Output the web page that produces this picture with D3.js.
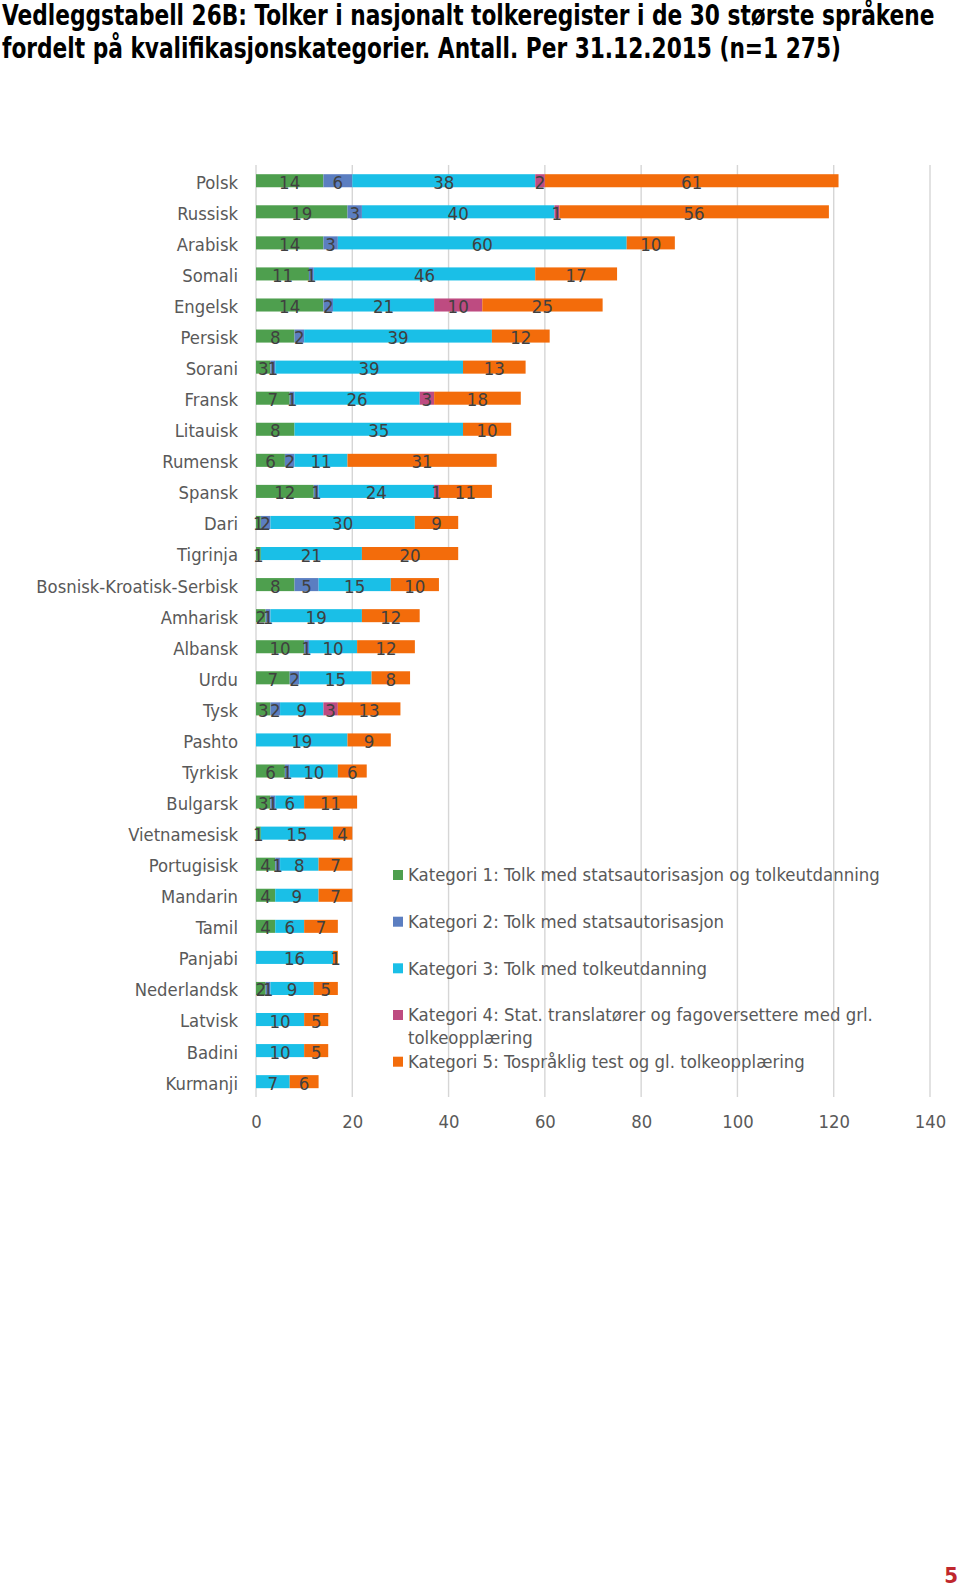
<!DOCTYPE html>
<html><head><meta charset="utf-8">
<script src="https://cdn.jsdelivr.net/npm/d3@7"></script>
<style>
body{margin:0;background:#fff;}
svg{display:block;}
text{font-family:"DejaVu Sans Condensed","DejaVu Sans",sans-serif;font-stretch:condensed;}
</style></head><body>
<svg id="c" width="960" height="1592"></svg>
<script>
const categories = ["Polsk","Russisk","Arabisk","Somali","Engelsk","Persisk","Sorani","Fransk","Litauisk","Rumensk","Spansk","Dari","Tigrinja","Bosnisk-Kroatisk-Serbisk","Amharisk","Albansk","Urdu","Tysk","Pashto","Tyrkisk","Bulgarsk","Vietnamesisk","Portugisisk","Mandarin","Tamil","Panjabi","Nederlandsk","Latvisk","Badini","Kurmanji"];
const kategori1 = [14,19,14,11,14,8,3,7,8,6,12,1,1,8,2,10,7,3,0,6,3,1,4,4,4,0,2,0,0,0];
const kategori2 = [6,3,3,1,2,2,1,1,0,2,1,2,0,5,1,1,2,2,0,1,1,0,1,0,0,0,1,0,0,0];
const kategori3 = [38,40,60,46,21,39,39,26,35,11,24,30,21,15,19,10,15,9,19,10,6,15,8,9,6,16,9,10,10,7];
const kategori4 = [2,1,0,0,10,0,0,3,0,0,1,0,0,0,0,0,0,3,0,0,0,0,0,0,0,0,0,0,0,0];
const kategori5 = [61,56,10,17,25,12,13,18,10,31,11,9,20,10,12,12,8,13,9,6,11,4,7,7,7,1,5,5,5,6];
const seriesNames = ["Kategori 1: Tolk med statsautorisasjon og tolkeutdanning","Kategori 2: Tolk med statsautorisasjon","Kategori 3: Tolk med tolkeutdanning","Kategori 4: Stat. translatører og fagoversettere med grl. tolkeopplæring","Kategori 5: Tospråklig test og gl. tolkeopplæring"];
const xTicks = [0,20,40,60,80,100,120,140];
const titleLines = ["Vedleggstabell 26B: Tolker i nasjonalt tolkeregister i de 30 største språkene","fordelt på kvalifikasjonskategorier. Antall. Per 31.12.2015 (n=1 275)"];
const pageNumber = "5";

const colors = ["#4E9F4E","#5B7EC1","#1ABFE7","#BE4B81","#F36C0B"];
const seriesData = [kategori1,kategori2,kategori3,kategori4,kategori5];

const svg = d3.select("#c");
const x = d3.scaleLinear().domain([0,140]).range([256,930]);
const y = d3.scaleBand().domain(categories).range([165.2,1097.2]).paddingInner(0.58).paddingOuter(0.29);

// gridlines
svg.append("g").selectAll("line").data(xTicks).join("line")
  .attr("x1",d=>x(d)).attr("x2",d=>x(d)).attr("y1",165).attr("y2",1097)
  .attr("stroke","#D6D6D6").attr("stroke-width",1.4);

// stacked data
const rows = categories.map((c,i)=>{const o={cat:c};seriesData.forEach((s,k)=>o["s"+k]=s[i]);return o;});
const keys = seriesData.map((s,k)=>"s"+k);
const stacked = d3.stack().keys(keys)(rows);

const gBars = svg.append("g");
stacked.forEach((layer,k)=>{
  gBars.append("g").attr("fill",colors[k]).selectAll("rect").data(layer).join("rect")
    .attr("x",d=>x(d[0])).attr("width",d=>x(d[1])-x(d[0]))
    .attr("y",d=>y(d.data.cat)).attr("height",y.bandwidth());
});
const gLab = svg.append("g").attr("fill","#404040").attr("font-size",18.5).attr("text-anchor","middle");
stacked.forEach((layer,k)=>{
  gLab.append("g").selectAll("text").data(layer.filter(d=>d[1]-d[0]>0)).join("text")
    .attr("x",d=>x((d[0]+d[1])/2)).attr("y",d=>y(d.data.cat)+y.bandwidth()/2+1.5)
    .attr("dy","0.35em").text(d=>d[1]-d[0]);
});

// category labels
const yAxis = d3.axisLeft(y).tickSize(0).tickPadding(18);
const ya = svg.append("g").attr("transform","translate(256,0)").call(yAxis);
ya.select(".domain").remove();
ya.selectAll("text").attr("font-size",18.3).attr("fill","#595959").attr("font-family",null).attr("dy","0.35em").attr("y",1.5);

// x axis labels
const xAxis = d3.axisBottom(x).tickValues(xTicks).tickSize(0).tickPadding(18);
const xa = svg.append("g").attr("transform","translate(0,1097)").call(xAxis);
xa.select(".domain").remove();
xa.selectAll("text").attr("font-size",18.3).attr("fill","#595959").attr("font-family",null);

// legend
const legY = [875,921.7,968.3,1015,1061.7];
const lg = svg.append("g");
seriesNames.forEach((n,k)=>{
  lg.append("rect").attr("x",393).attr("y",legY[k]-5).attr("width",10).attr("height",10).attr("fill",colors[k]);
  const t = lg.append("text").attr("x",408).attr("y",legY[k]).attr("dy","0.35em").attr("font-size",18.4).attr("fill","#595959");
  if(k===3){
    t.append("tspan").text("Kategori 4: Stat. translatører og fagoversettere med grl.");
    t.append("tspan").attr("x",408).attr("dy","1.25em").text("tolkeopplæring");
  } else t.text(n);
});

// title (bold, horizontally fitted)
const tfs = 27.5;
const tg = svg.append("g");
const t1 = tg.append("text").attr("x",0).attr("y",0).attr("font-weight","bold").attr("font-size",tfs).attr("fill","#000").text(titleLines[0]);
const w = t1.node().getComputedTextLength();
const sx = 933/w;
t1.attr("transform",`translate(2,25) scale(${sx},1)`);
tg.append("text").attr("x",0).attr("y",0).attr("transform",`translate(2,58) scale(${sx},1)`)
  .attr("font-weight","bold").attr("font-size",tfs).attr("fill","#000").text(titleLines[1]);

svg.append("text").attr("x",958).attr("y",1583).attr("text-anchor","end").attr("font-weight","bold").attr("font-size",22).attr("fill","#C0272D").attr("font-family","DejaVu Sans, sans-serif").text(pageNumber);
</script>
</body></html>
